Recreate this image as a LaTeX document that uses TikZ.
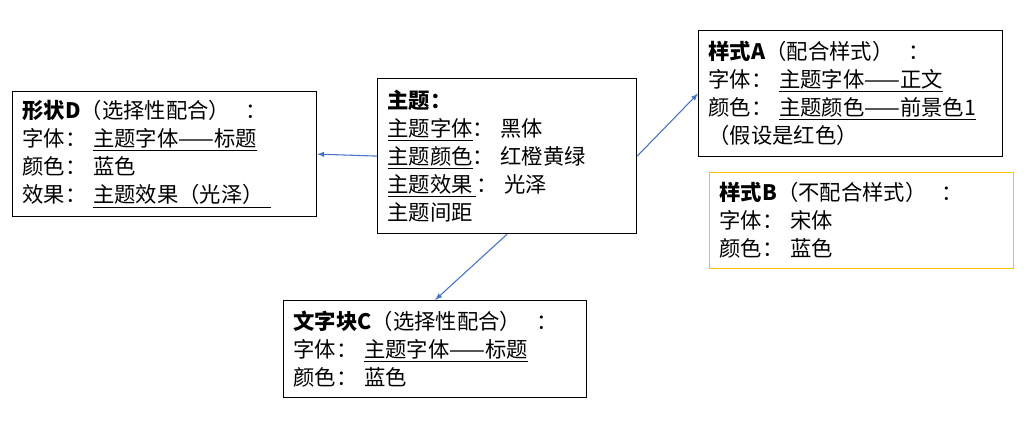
\documentclass[tikz,border=0pt]{standalone}
\usepackage{fontspec}
\setmainfont{Noto Sans CJK SC}
\usepackage{xcolor}
\usepackage{tikz}
\usetikzlibrary{positioning,arrows.meta}
\definecolor{linkblue}{RGB}{68,114,196}
\definecolor{boxgold}{RGB}{255,192,0}
\newcommand{\colgap}{：\hspace{0.3em}}
\newcommand{\headcolon}{\hspace{0.7em}：}

\begin{document}
\begin{tikzpicture}[x=0.75pt, y=-0.75pt,
  font=\fontsize{16}{21}\selectfont,
  panel/.style={draw, line width=0.9pt, anchor=north west, align=left, inner xsep=7.5pt, inner ysep=0pt},
  link/.style={linkblue, line width=0.8pt, ->, >=latex}]
  \useasboundingbox (0,0) rectangle (1031,421);

  % Theme in the middle
  \node[panel, text width=179.25pt, minimum height=116.25pt] (theme) at (377,78)
    {\textbf{主题：}\\
     \underline{主题字体}\colgap 黑体\\
     \underline{主题颜色}\colgap 红橙黄绿\\
     \underline{主题效果\,}\colgap 光泽\\
     主题间距};

  % Shape D
  \node[panel, text width=213pt, minimum height=93.75pt] (shapeD) at (12,91)
    {\textbf{形状D}（选择性配合）\headcolon\\
     字体\colgap\underline{主题字体——标题}\\
     颜色\colgap 蓝色\\
     效果\colgap\underline{主题效果（光泽）\ }};

  % Style A and style B
  \node[panel, text width=213pt, minimum height=94.5pt] (styleA) at (698,30)
    {\textbf{样式A}（配合样式）\headcolon\\
     字体\colgap\underline{主题字体——正文}\\
     颜色\colgap\underline{主题颜色——前景色1}\\
     （假设是红色）};
  \node[panel, draw=boxgold, text width=213pt, minimum height=72pt] (styleB) at (709,172)
    {\textbf{样式B}（不配合样式）\headcolon\\
     字体\colgap 宋体\\
     颜色\colgap 蓝色};

  % Text block C
  \node[panel, text width=212.25pt, minimum height=72.75pt] (blockC) at (283,300)
    {\textbf{文字块C}（选择性配合）\headcolon\\
     字体\colgap\underline{主题字体——标题}\\
     颜色\colgap 蓝色};

  % Links
  \draw[link] (theme.west) -- (shapeD.east);
  \draw[link] (theme.east) -- (styleA.west);
  \draw[link] (theme.south) -- (blockC.north);
\end{tikzpicture}
\end{document}
